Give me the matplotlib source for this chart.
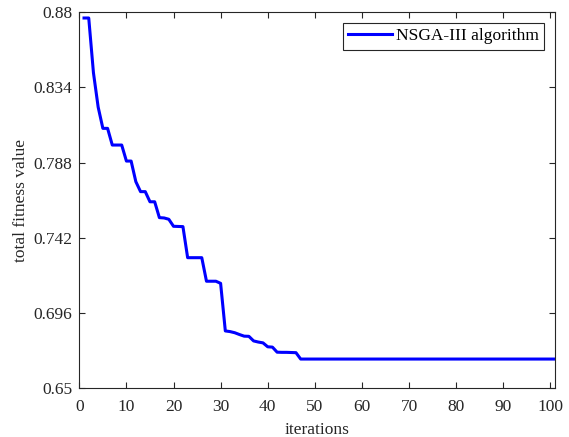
import matplotlib
matplotlib.use("Agg")
import matplotlib.pyplot as plt

iterations = list(range(1, 102))
fitness_head = [0.8765, 0.8765, 0.843, 0.822, 0.809, 0.809, 0.7988, 0.7988, 0.7988, 0.789,
                0.789, 0.7764, 0.7703, 0.7703, 0.7641, 0.7641, 0.7544, 0.7542, 0.7534, 0.7491,
                0.7490, 0.7489, 0.7299, 0.7299, 0.7299, 0.7299, 0.7155, 0.7155, 0.7155, 0.7142,
                0.6851, 0.6847, 0.6840, 0.6829, 0.6819, 0.6818, 0.6790, 0.6783, 0.6778, 0.6754,
                0.6752, 0.6721, 0.6720, 0.6720, 0.6719, 0.6718]
fitness_tail = [0.6679] * (len(iterations) - len(fitness_head))
fitness = fitness_head + fitness_tail

xticks = [0, 10, 20, 30, 40, 50, 60, 70, 80, 90, 100]
yticks = [0.65, 0.696, 0.742, 0.788, 0.834, 0.88]
ytick_labels = ["0.65", "0.696", "0.742", "0.788", "0.834", "0.88"]

FS = 12.5
plt.rcParams['font.family'] = ['Liberation Serif', 'DejaVu Serif']
plt.rcParams['font.size'] = FS

fig = plt.figure(figsize=(5.69, 4.37), dpi=100)
ax = fig.add_axes([0.1394, 0.1114, 0.9754 - 0.1394, 0.9719 - 0.1114])
ax.plot(iterations, fitness, color=(0, 0, 1), linewidth=2.2, label='NSGA-III algorithm')
ax.set_xlim(0, 101)
ax.set_ylim(0.65, 0.88)
ax.set_xticks(xticks)
ax.set_yticks(yticks)
ax.set_yticklabels(ytick_labels)
ax.tick_params(direction='in', top=True, right=True, length=4, width=0.8, colors='#262626',
               labelcolor='#262626', labelsize=FS)
ax.tick_params(axis='x', pad=7.5)
ax.tick_params(axis='y', pad=5)
for s in ax.spines.values():
    s.set_color('#262626')
    s.set_linewidth(0.8)
ax.set_xlabel('iterations', fontsize=FS, color='#262626', labelpad=5)
ax.set_ylabel('total fitness value', fontsize=FS, color='#262626', labelpad=3)
leg = ax.legend(loc='upper right', fancybox=False, framealpha=1, edgecolor='#262626',
                fontsize=FS, handlelength=2.5, borderaxespad=0.62, handletextpad=0.25,
                borderpad=0.3)
leg.get_frame().set_linewidth(0.8)
fig.savefig('out.png', dpi=100)
